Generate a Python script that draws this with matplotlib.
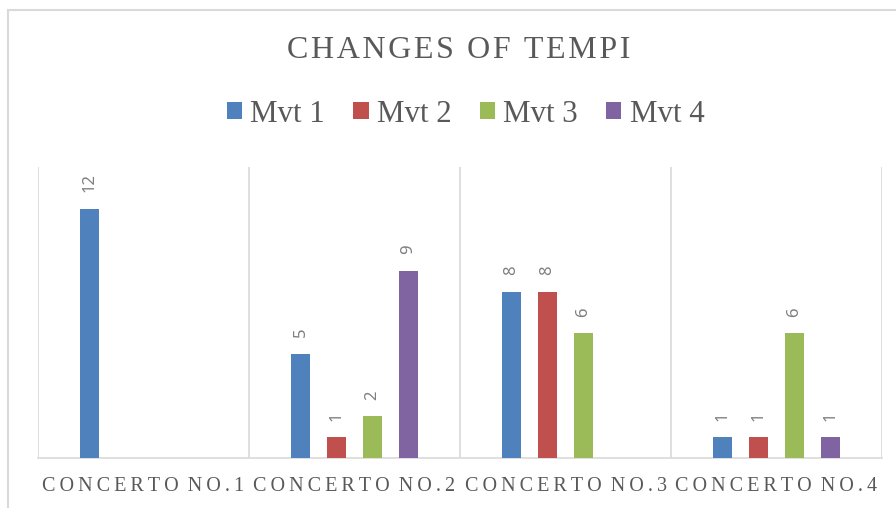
"""Grouped bar chart: number of tempo changes per movement in each concerto."""

import matplotlib

matplotlib.use("Agg")
import matplotlib.pyplot as plt
import numpy as np
from matplotlib.patches import Patch, Rectangle

CONCERTOS = ["CONCERTO NO.1", "CONCERTO NO.2", "CONCERTO NO.3", "CONCERTO NO.4"]
MOVEMENTS = ["Mvt 1", "Mvt 2", "Mvt 3", "Mvt 4"]
MVT1 = [12, 5, 8, 1]
MVT2 = [0, 1, 8, 1]
MVT3 = [0, 2, 6, 6]
MVT4 = [0, 9, 0, 1]

COLORS = ["#4F81BD", "#C0504D", "#9BBB59", "#8064A2"]
TEXT_GRAY = "#595959"
LINE_GRAY = "#d9d9d9"
SERIF = ["Liberation Serif", "DejaVu Serif"]
HAIR = "\u200a"
THIN = "\u2009"


def spaced(s: str, sep: str, word_sep: str) -> str:
    # poor man's letter spacing
    return word_sep.join(sep.join(word) for word in s.split(" "))


def main() -> None:
    fig = plt.figure(figsize=(8.96, 5.08), dpi=100)
    W, H = 896, 508

    # chart area border (runs off the right/bottom edge)
    fig.patches.append(
        Rectangle((8 / W, -0.2), 1.3, 1.2 - 10 / H, transform=fig.transFigure,
                  fill=False, edgecolor=LINE_GRAY, lw=1.5)
    )

    ax = fig.add_axes([38 / W, 1 - 458 / H, (882 - 38) / W, (458 - 167) / H])

    series = [MVT1, MVT2, MVT3, MVT4]
    x = np.arange(len(CONCERTOS))
    slot = 36 / 211
    width = 19 / 211
    for i, (vals, color) in enumerate(zip(series, COLORS)):
        xs = x + (i - 1.5) * slot
        bars = ax.bar(xs, vals, width=width, color=color, linewidth=0, zorder=3)
        for b, v in zip(bars, vals):
            if v == 0:
                continue
            ax.annotate(str(v), (b.get_x() + b.get_width() / 2, v),
                        xytext=(0, 12), textcoords="offset points",
                        rotation=90, ha="center", va="bottom",
                        fontsize=12, color="#7f7f7f", family="Noto Sans")

    ax.set_xlim(-0.5, len(CONCERTOS) - 0.5)
    ax.set_ylim(0, 14)
    ax.set_yticks([])
    for side in ("left", "right", "top"):
        ax.spines[side].set_visible(False)
    ax.spines["bottom"].set_color(LINE_GRAY)
    ax.spines["bottom"].set_linewidth(1.2)
    for b in np.arange(-0.5, len(CONCERTOS), 1.0):
        ax.axvline(b, color=LINE_GRAY, lw=1.2, zorder=1)

    ax.set_xticks(x)
    ax.set_xticklabels([spaced(c, THIN, THIN + " ") for c in CONCERTOS], family=SERIF,
                       fontsize=14.5, color=TEXT_GRAY)
    ax.tick_params(axis="x", length=0, pad=13.5)

    fig.text(458.5 / W, 1 - 51 / H, spaced("CHANGES OF TEMPI", HAIR, HAIR + " " + HAIR),
             family=SERIF, fontsize=23, color=TEXT_GRAY, ha="center", va="center")

    handles = [Patch(facecolor=c, edgecolor="none", label=m) for c, m in zip(COLORS, MOVEMENTS)]
    fig.legend(handles=handles, loc="center", bbox_to_anchor=(465.5 / W, 1 - 114 / H),
               ncol=4, frameon=False, prop={"family": SERIF, "size": 22.3},
               labelcolor=TEXT_GRAY, handlelength=0.5, handleheight=0.5,
               handletextpad=0.27, columnspacing=0.9, borderpad=0, borderaxespad=0)

    fig.savefig("out.png", dpi=100)
    plt.close(fig)


if __name__ == "__main__":
    main()
